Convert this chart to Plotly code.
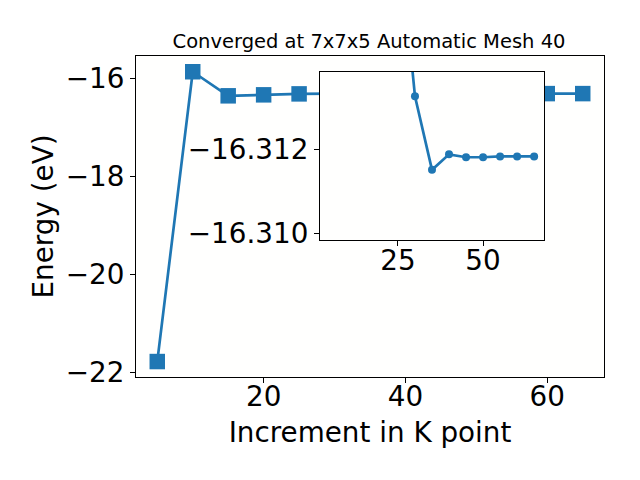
import plotly.graph_objects as go

kpoints = [5, 10, 15, 20, 25, 30, 35, 40, 45, 50, 55, 60, 65]
energies = [-21.775, -15.866, -16.357, -16.337, -16.3174, -16.31326, -16.31151,
            -16.31188, -16.31181, -16.31181, -16.31183, -16.31183, -16.31183]
inset_start = 4  # inset shows k >= 25

title_text = "Converged at 7x7x5 Automatic Mesh 40"
xlabel = "Increment in K point"
ylabel = "Energy (eV)"

BLUE = "#1f77b4"
FONT = "DejaVu Sans"
FS = 27.8

fig = go.Figure()
fig.add_trace(go.Scatter(
    x=kpoints, y=energies, mode="lines+markers",
    line=dict(color=BLUE, width=2.7),
    marker=dict(symbol="square", size=15.5, color=BLUE),
    xaxis="x", yaxis="y", showlegend=False))
fig.add_trace(go.Scatter(
    x=kpoints[inset_start:], y=energies[inset_start:], mode="lines+markers",
    line=dict(color=BLUE, width=2.7),
    marker=dict(symbol="circle", size=8, color=BLUE),
    xaxis="x2", yaxis="y2", showlegend=False))

axis_common = dict(showline=True, linecolor="black", linewidth=1.1, mirror=True,
                   ticks="outside", ticklen=5, tickwidth=1.1, tickcolor="black",
                   showgrid=False, zeroline=False,
                   tickfont=dict(family=FONT, size=FS, color="black"))

L, R, T, B = 136, 36, 56, 103
W, H = 640, 480
pw, ph = W - L - R, H - T - B

fig.update_layout(
    width=W, height=H,
    margin=dict(l=L, r=R, t=T, b=B, autoexpand=False),
    paper_bgcolor="white", plot_bgcolor="#fffffe",
    font=dict(family=FONT, color="black"),
    title=dict(text=title_text, x=369 / W, xref="container", xanchor="center",
               y=1 - 41 / H, yref="container", yanchor="middle",
               font=dict(family=FONT, size=19.5, color="black")),
    xaxis=dict(axis_common, range=[2, 68], tick0=0, dtick=20, domain=[0, 1],
               ticklabelstandoff=-10,
               title=dict(text=xlabel, font=dict(family=FONT, size=FS), standoff=10)),
    yaxis=dict(axis_common, range=[-22.09, -15.545], tick0=0, dtick=2, domain=[0, 1],
               title=dict(text=ylabel, font=dict(family=FONT, size=FS), standoff=3)),
    xaxis2=dict(axis_common, range=[2.1, 67.9], tick0=0, dtick=25,
                ticklabelstandoff=-9,
                domain=[(320 - L) / pw, (544 - L) / pw], anchor="y2"),
    yaxis2=dict(axis_common, range=[-16.30984, -16.31384], tick0=-16.31, dtick=0.002,
                tickformat=".3f",
                domain=[(H - B - 240) / ph, (H - B - 72) / ph], anchor="x2"),
)

fig.write_html("out.html", config={"displayModeBar": False},
               post_script="document.body.style.margin='0';document.body.style.overflow='hidden';")
